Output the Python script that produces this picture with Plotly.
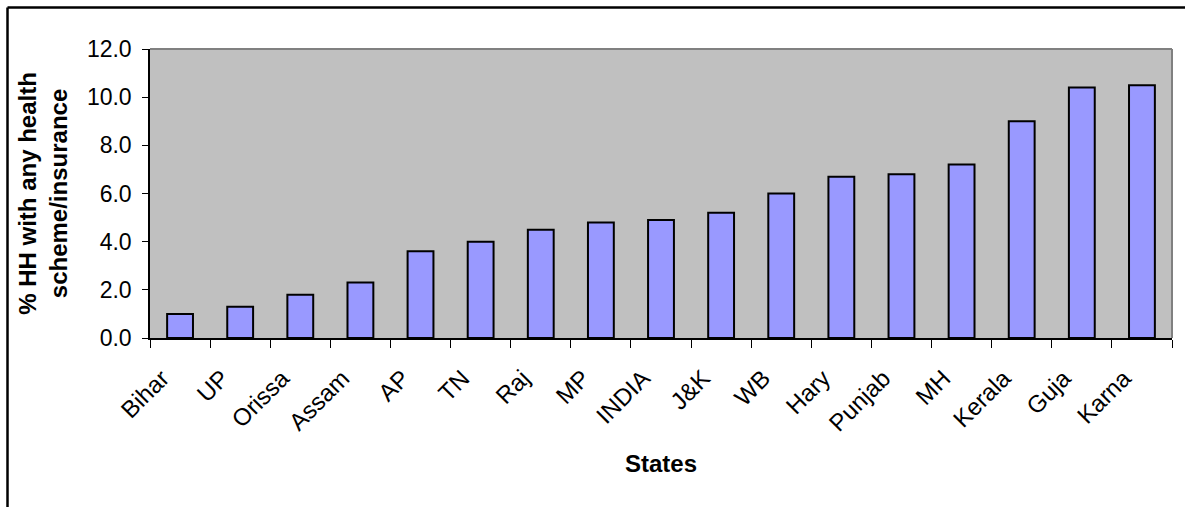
import plotly.graph_objects as go

# Share of households covered by any health scheme / insurance, by state
states = ["Bihar", "UP", "Orissa", "Assam", "AP", "TN", "Raj", "MP", "INDIA",
          "J&K", "WB", "Hary", "Punjab", "MH", "Kerala", "Guja", "Karna"]
pct_covered = [1.0, 1.3, 1.8, 2.3, 3.6, 4.0, 4.5, 4.8, 4.9,
               5.2, 6.0, 6.7, 6.8, 7.2, 9.0, 10.4, 10.5]
y_ticks = [0, 2, 4, 6, 8, 10, 12]

W, H = 1185, 507
L, R, T, B = 150, 13, 49, 169
pw, ph = W - L - R, H - T - B

font_family = "Liberation Sans, Arial, sans-serif"

fig = go.Figure(go.Bar(
    x=states,
    y=pct_covered,
    marker=dict(color="#9999ff", line=dict(color="black", width=2)),
    width=0.43,
))

# frame around the chart (left and top visible edges)
fx = (7.5 - L) / pw
fy = 1 + (T - 7.5) / ph
shapes = [
    dict(type="line", xref="paper", yref="paper", x0=fx, x1=fx, y0=fy, y1=-1.0,
         line=dict(color="black", width=2.5)),
    dict(type="line", xref="paper", yref="paper", x0=fx, x1=1.2, y0=fy, y1=fy,
         line=dict(color="black", width=2.5)),
    # grey plot-area border on top and right
    dict(type="line", xref="paper", yref="paper", x0=0, x1=1, y0=1, y1=1,
         line=dict(color="#808080", width=2)),
    dict(type="line", xref="paper", yref="paper", x0=1, x1=1, y0=0, y1=1,
         line=dict(color="#808080", width=2)),
]

fig.update_layout(
    width=W, height=H,
    margin=dict(l=L, r=R, t=T, b=B),
    paper_bgcolor="white",
    plot_bgcolor="#c0c0c0",
    showlegend=False,
    font=dict(family=font_family, color="black", size=24),
    shapes=shapes,
    xaxis=dict(
        type="category",
        tickangle=-45,
        ticks="outside", tickson="boundaries", ticklen=8, tickcolor="black",
        showline=True, linecolor="black", linewidth=1.5,
        showgrid=False,
        tickfont=dict(size=24),
        ticklabelstandoff=15,
        ticklabelshift=-18,
        title=dict(text="<b>States</b>", font=dict(size=24), standoff=20),
    ),
    yaxis=dict(
        range=[0, 12],
        tickvals=y_ticks,
        tickformat=".1f",
        ticks="outside", ticklen=6, tickcolor="black",
        showline=True, linecolor="black", linewidth=1.5,
        showgrid=False, zeroline=False,
        tickfont=dict(size=23),
        ticklabelstandoff=6,
        title=dict(text="<b>% HH with any health<br>scheme/insurance</b>",
                   font=dict(size=24), standoff=12),
    ),
)

fig.write_html("out.html")
